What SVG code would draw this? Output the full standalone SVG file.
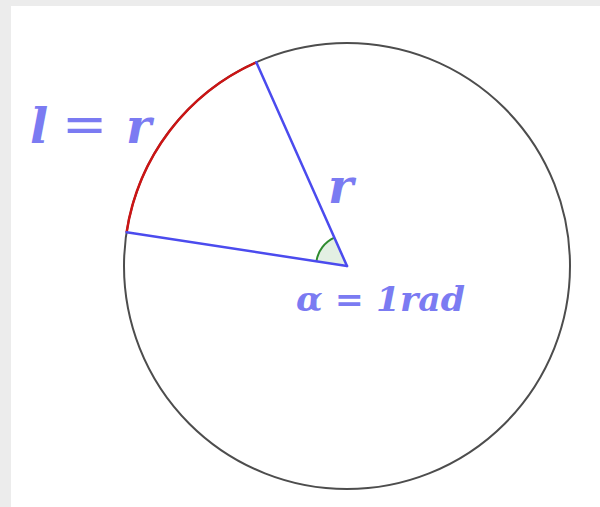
<svg xmlns="http://www.w3.org/2000/svg" width="600" height="507" viewBox="0 0 600 507">
<style>
.lbl{font-family:"DejaVu Serif","Liberation Serif",serif;font-style:italic;font-weight:bold;fill:#7b7bf2}
.radius{stroke:#4b4bee;stroke-width:2.5;fill:none;stroke-linecap:round}
</style>
<rect x="0" y="0" width="600" height="507" fill="#ececec"/>
<rect x="11" y="6" width="589" height="501" fill="#ffffff"/>
<g id="circle">
<circle cx="347" cy="266" r="223" fill="none" stroke="#4d4d4d" stroke-width="2"/>
</g>
<g id="arc-length">
<path d="M126.6,232.3 A223,223 0 0 1 256.3,62.3" fill="none" stroke="#cc1414" stroke-width="2.5"/>
</g>
<g id="angle">
<path d="M347,266 L316.4,261.3 A31,31 0 0 1 334.4,237.7 Z" fill="#e3f0e3" stroke="none"/>
<path d="M316.4,261.3 A31,31 0 0 1 334.4,237.7" fill="none" stroke="#2e8b2e" stroke-width="2"/>
</g>
<g id="connectors">
<line class="radius" x1="347" y1="266" x2="256.3" y2="62.3"/>
<line class="radius" x1="347" y1="266" x2="126.6" y2="232.3"/>
</g>
<g id="label-l">
<text class="lbl" font-size="48" y="143"><tspan x="30">l</tspan> <tspan x="62" font-size="54" font-style="normal" font-weight="normal">=</tspan> <tspan x="126">r</tspan></text>
</g>
<g id="label-r">
<text class="lbl" font-size="48" x="328" y="203">r</text>
</g>
<g id="label-alpha">
<text class="lbl" font-size="33" x="296" y="311" textLength="169" lengthAdjust="spacingAndGlyphs">α = 1rad</text>
</g>
</svg>
